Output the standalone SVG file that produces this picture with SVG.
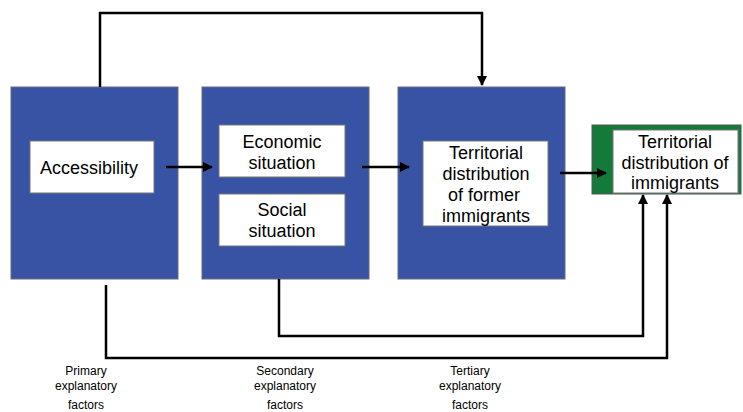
<svg xmlns="http://www.w3.org/2000/svg" width="743" height="412" viewBox="0 0 743 412">
<defs>
<style>
.blue{fill:#3953a4;stroke:#6a6a7a;stroke-width:1}
.green{fill:#137a3a;stroke:#555;stroke-width:1}
.inner{fill:#fff;stroke:#777;stroke-width:1}
.t{font-family:"Liberation Sans",Arial,sans-serif;font-size:18px;fill:#000;text-anchor:middle}
.s{font-family:"Liberation Sans",Arial,sans-serif;font-size:12px;fill:#000;text-anchor:middle}
.c{fill:none;stroke:#000;stroke-width:2.5}
</style>
<marker id="ah" viewBox="0 0 10 10" refX="9" refY="5" markerWidth="4" markerHeight="4" orient="auto" markerUnits="strokeWidth">
<path d="M0,0 L10,5 L0,10 z" fill="#000"/>
</marker>
</defs>
<rect width="743" height="412" fill="#fff"/>
<g id="primary">
<rect class="blue" x="11" y="87" width="167" height="192"/>
<rect class="inner" x="30" y="141" width="124" height="52"/>
<text class="t" x="89" y="174">Accessibility</text>
</g>
<g id="secondary">
<rect class="blue" x="202" y="87" width="167" height="192"/>
<rect class="inner" x="219" y="125" width="126" height="52"/>
<text class="t" x="282" y="148">Economic</text>
<text class="t" x="282" y="169">situation</text>
<rect class="inner" x="219" y="194" width="126" height="52"/>
<text class="t" x="282" y="216">Social</text>
<text class="t" x="282" y="237">situation</text>
</g>
<g id="tertiary">
<rect class="blue" x="398" y="87" width="167" height="192"/>
<rect class="inner" x="423" y="141" width="125" height="85"/>
<text class="t" x="486" y="159">Territorial</text>
<text class="t" x="486" y="180">distribution</text>
<text class="t" x="484" y="201">of former</text>
<text class="t" x="486" y="222">immigrants</text>
</g>
<g id="result">
<rect class="green" x="592" y="125" width="149" height="69"/>
<rect class="inner" x="613" y="130" width="125" height="63"/>
<text class="t" x="675" y="148">Territorial</text>
<text class="t" x="675" y="169">distribution of</text>
<text class="t" x="675" y="189">immigrants</text>
</g>
<g id="connectors">
<path class="c" d="M100,87 V13 H482 V85" marker-end="url(#ah)"/>
<path class="c" d="M166,167 H212" marker-end="url(#ah)"/>
<path class="c" d="M362,167 H409" marker-end="url(#ah)"/>
<path class="c" d="M560,173 H606" marker-end="url(#ah)"/>
<path class="c" d="M279,279 V336 H643 V195" marker-end="url(#ah)"/>
<path class="c" d="M106,285 V358 H667 V195" marker-end="url(#ah)"/>
</g>
<g id="labels">
<text class="s" x="86" y="375">Primary</text>
<text class="s" x="86" y="390">explanatory</text>
<text class="s" x="86" y="409">factors</text>
<text class="s" x="285" y="375">Secondary</text>
<text class="s" x="285" y="390">explanatory</text>
<text class="s" x="285" y="409">factors</text>
<text class="s" x="470" y="375">Tertiary</text>
<text class="s" x="470" y="390">explanatory</text>
<text class="s" x="470" y="409">factors</text>
</g>
</svg>
